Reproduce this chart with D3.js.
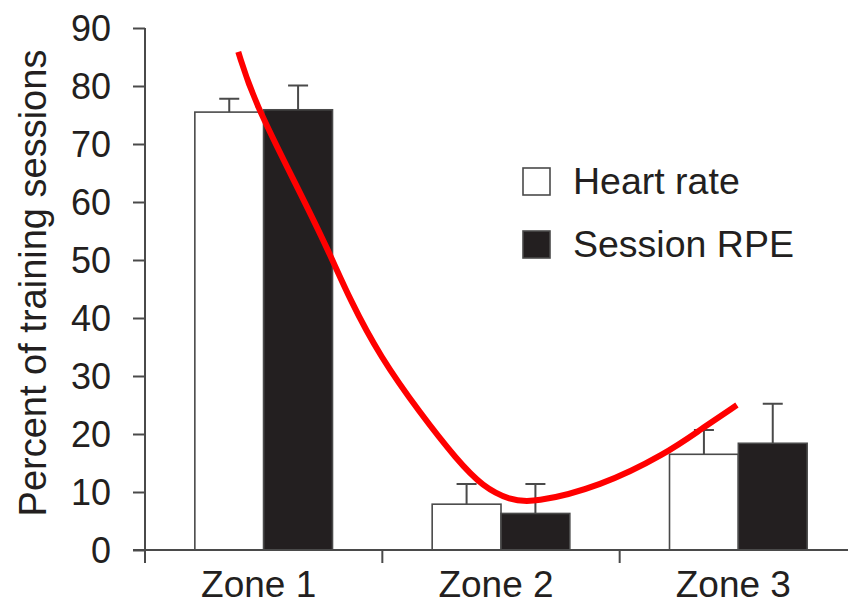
<!DOCTYPE html>
<html>
<head>
<meta charset="utf-8">
<script src="https://cdn.jsdelivr.net/npm/d3@7"></script>
<style>
  body { margin: 0; background: #fff; }
  text { font-family: "Liberation Sans", Arial, sans-serif; fill: #231f20; }
</style>
</head>
<body>
<div id="chart"></div>
<script>
// data
var zones = ['Zone 1', 'Zone 2', 'Zone 3']
var series = ['Heart rate', 'Session RPE']
var heartRate = [75.5, 7.9, 16.5]
var heartRateErr = [2.3, 3.5, 4.2]
var sessionRpe = [75.9, 6.3, 18.4]
var sessionRpeErr = [4.2, 5.1, 6.8]
var yTicks = [0, 10, 20, 30, 40, 50, 60, 70, 80, 90]
// hand drawn red trend, x given as zone position (1 = Zone 1 centre)
var trendX = [0.893, 0.956, 1.154, 1.272, 1.364, 1.491, 1.659, 1.815, 1.924, 2.038, 2.135, 2.417, 2.699, 2.838, 2.994]
var trendY = [85.9, 77.6, 61.6, 51.7, 43.1, 33.3, 23.6, 15.5, 10.9, 8.6, 8.1, 10.9, 16.7, 20.7, 25.0]

var width = 848, height = 604
var ink = '#231f20', axisCol = '#4a4a4a'

var svg = d3.select('#chart').append('svg').attr('width', width).attr('height', height)

var x0 = d3.scaleBand().domain(zones).range([145, 857]).paddingInner(0).paddingOuter(0)
var bw = x0.bandwidth()
var x1 = d3.scaleBand().domain(series).range([bw * 0.21, bw * 0.79]).padding(0)
var y = d3.scaleLinear().domain([0, 90]).range([550, 28])
var xPos = d3.scaleLinear().domain([1, 3]).range([x0('Zone 1') + bw / 2, x0('Zone 3') + bw / 2])

// bars
var rows = zones.map(function(z, i) {
  return [
    { zone: z, s: 'Heart rate', v: heartRate[i], e: heartRateErr[i] },
    { zone: z, s: 'Session RPE', v: sessionRpe[i], e: sessionRpeErr[i] }
  ]
})

var groups = svg.selectAll('.zone').data(rows).enter().append('g')
  .attr('class', 'zone')
  .attr('transform', function(d, i) { return 'translate(' + x0(zones[i]) + ',0)' })

// error bars first so the bar top covers the stem start
groups.selectAll('.err').data(function(d) { return d }).enter().append('path')
  .attr('class', 'err')
  .attr('fill', 'none').attr('stroke', axisCol).attr('stroke-width', 2)
  .attr('d', function(d) {
    var cx = x1(d.s) + x1.bandwidth() / 2
    var top = y(d.v + d.e)
    return 'M' + cx + ',' + y(d.v) + 'V' + top + 'M' + (cx - 10) + ',' + top + 'H' + (cx + 10)
  })

groups.selectAll('.bar').data(function(d) { return d }).enter().append('rect')
  .attr('class', 'bar')
  .attr('x', function(d) { return x1(d.s) })
  .attr('width', x1.bandwidth())
  .attr('y', function(d) { return y(d.v) })
  .attr('height', function(d) { return y(0) - y(d.v) })
  .attr('fill', function(d) { return d.s === 'Heart rate' ? '#fff' : ink })
  .attr('stroke', axisCol).attr('stroke-width', 1.6)

// y axis
var yAxis = svg.append('g').attr('transform', 'translate(145,0)')
  .call(d3.axisLeft(y).tickValues(yTicks).tickSize(12).tickPadding(22))
yAxis.select('.domain').attr('stroke', axisCol).attr('stroke-width', 2).attr('d', 'M0,' + y(90) + 'V563')
yAxis.selectAll('.tick line').attr('stroke', axisCol).attr('stroke-width', 2)
yAxis.selectAll('.tick text').attr('font-size', 36).attr('fill', ink).attr('dy', '0.36em')

// x axis
var xAxis = svg.append('g').attr('transform', 'translate(0,550)')
xAxis.append('path').attr('stroke', axisCol).attr('stroke-width', 2).attr('d', 'M133,0H' + width)
xAxis.selectAll('.sep').data(zones.slice(1)).enter().append('path')
  .attr('stroke', axisCol).attr('stroke-width', 2)
  .attr('d', function(z) { return 'M' + x0(z) + ',0V13' })
xAxis.selectAll('.lbl').data(zones).enter().append('text')
  .attr('x', function(z) { return x0(z) + bw / 2 - 5 })
  .attr('y', 47)
  .attr('text-anchor', 'middle')
  .attr('font-size', 37)
  .text(function(z) { return z })

// y title
svg.append('text')
  .attr('transform', 'translate(46,283) rotate(-90)')
  .attr('text-anchor', 'middle')
  .attr('font-size', 38)
  .text('Percent of training sessions')

// legend
var legend = svg.selectAll('.legend').data(series).enter().append('g')
  .attr('class', 'legend')
  .attr('transform', function(d, i) { return 'translate(523,' + (168 + i * 63) + ')' })
legend.append('rect').attr('width', 27).attr('height', 27)
  .attr('fill', function(d, i) { return i === 0 ? '#fff' : ink })
  .attr('stroke', axisCol).attr('stroke-width', 1.6)
legend.append('text').attr('x', 50).attr('y', 26).attr('font-size', 37.5).text(function(d) { return d })

// red trend
var trend = trendX.map(function(v, i) { return [v, trendY[i]] })
svg.append('path').datum(trend)
  .attr('fill', 'none').attr('stroke', '#ff0000').attr('stroke-width', 6)
  .attr('d', d3.line()
    .x(function(d) { return xPos(d[0]) })
    .y(function(d) { return y(d[1]) })
    .curve(d3.curveBasis))
</script>
</body>
</html>
